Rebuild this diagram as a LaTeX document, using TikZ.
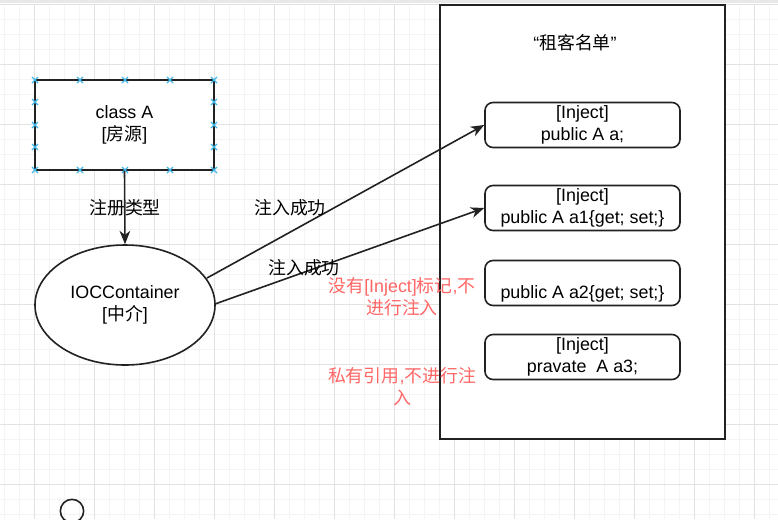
\documentclass[tikz,border=0pt]{standalone}
\usepackage{fontspec}
\setmainfont{Liberation Sans}
\newfontfamily\cjk{Noto Sans CJK SC}
\usetikzlibrary{shapes.geometric,arrows.meta}
\definecolor{gridmin}{HTML}{F4F4F4}
\definecolor{gridmaj}{HTML}{E2E2E2}
\definecolor{handle}{HTML}{3FB6E8}
\definecolor{redtxt}{HTML}{FF6666}
\definecolor{ink}{HTML}{222222}
\newcommand{\hdl}[2]{\draw[handle,line width=1pt] (#1-3,#2-3)--(#1+3,#2+3) (#1-3,#2+3)--(#1+3,#2-3);}
\begin{document}
\begin{tikzpicture}[x=0.75pt,y=-0.75pt,
  txt/.style={font=\fontsize{13.4}{16.5}\selectfont, align=center, inner sep=0pt},
  red/.style={txt, text=redtxt},
  shp/.style={draw=ink, line width=1.2pt, fill=white},
  item/.style={shp, rounded corners=6pt, minimum width=146.25pt, minimum height=33.75pt, inner sep=0pt},
  arr/.style={draw=ink, line width=1.2pt, -{Stealth[length=10pt,width=8pt,inset=3pt]}}]
\useasboundingbox (0,0) rectangle (778,519);
\fill[white] (0,0) rectangle (778,519);
% grid
\foreach \i in {0,...,51} {\draw[gridmin,line width=0.75pt] (4.7+15*\i,4) -- (4.7+15*\i,519);}
\foreach \i in {0,...,34} {\draw[gridmin,line width=0.75pt] (0,4.3+15*\i) -- (778,4.3+15*\i);}
\foreach \i in {0,...,12} {\draw[gridmaj,line width=0.75pt] (34.7+60*\i,4) -- (34.7+60*\i,519);}
\foreach \i in {0,...,8} {\draw[gridmaj,line width=0.75pt] (0,4.3+60*\i) -- (778,4.3+60*\i);}
\fill[gray!18] (0,0) rectangle (778,3);
% class A
\node[shp, minimum width=134.25pt, minimum height=67.5pt, txt] (classA) at (124.5,125) {class A\\{}[{\cjk 房源}]};
\foreach \x in {35,80,125,170,214} {\hdl{\x}{80} \hdl{\x}{170}}
\foreach \y in {102,125,147} {\hdl{35}{\y} \hdl{214}{\y}}
% ellipse
\node[shp, ellipse, minimum width=135pt, minimum height=90pt, txt] (ioc) at (125,305) {IOCContainer\\{}[{\cjk 中介}]};
% big list box
\node[shp, minimum width=213.75pt, minimum height=325.5pt] (list) at (582.5,222) {};
\node[txt] (title) at (575,43) {“{\cjk 租客名单}”};
\node[item, txt] (b1) at (582.5,125) {[Inject]\\public A a;};
\node[item, txt] (b2) at (582.5,208) {[Inject]\\public A a1\{get; set;\}};
\node[item] (b3) at (582.5,283) {};
\node[txt] (b3t) at (582.5,294) {public A a2\{get; set;\}};
\node[item, txt] (b4) at (582.5,357) {[Inject]\\pravate\ \ A a3;};
% connectors
\draw[arr] (classA.south) -- (ioc.north);
\node[txt] (l0) at (125,208) {\cjk 注册类型};
\coordinate (s1) at (207,278);
\coordinate (s2) at (215,304);
\draw[arr] (s1) -- (b1.west);
\draw[arr] (s2) -- (b2.west);
\node[txt] (l1) at (290,208) {\cjk 注入成功};
\node[txt] (l2) at (304,268) {\cjk 注入成功};
% red notes
\node[red] (n1) at (402,297) {{\cjk 没有}[Inject]{\cjk 标记},{\cjk 不}\\{\cjk 进行注入}};
\node[red] (n2) at (402,387) {{\cjk 私有引用},{\cjk 不进行注}\\{\cjk 入}};
% small circle
\node[draw=ink, line width=1.2pt, circle, minimum size=17.5pt, inner sep=0pt] (c) at (72,511) {};
\end{tikzpicture}
\end{document}
